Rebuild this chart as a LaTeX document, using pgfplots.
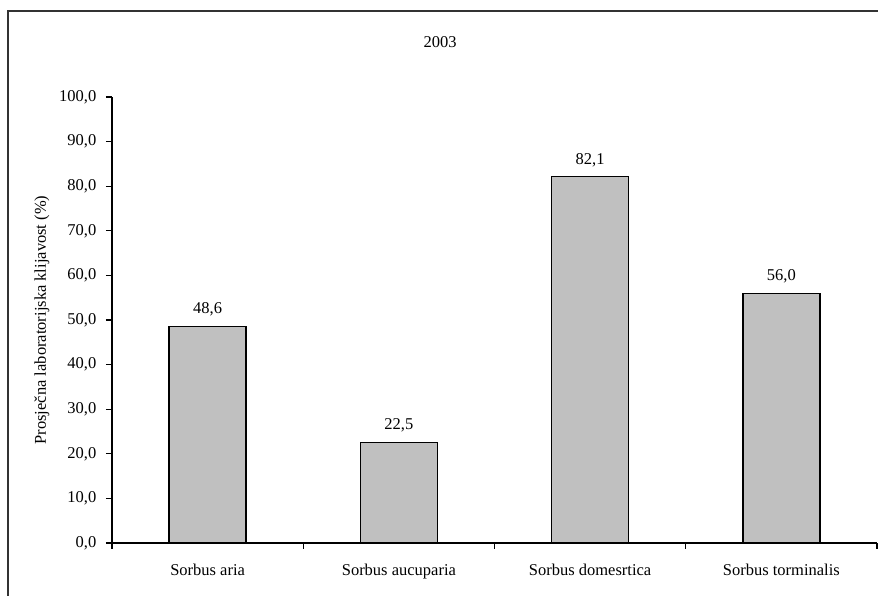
\documentclass[border=0pt]{standalone}
\usepackage{pgfplots}
\pgfplotsset{compat=1.18}
\usepackage{fontspec}
\setmainfont{Liberation Serif}
\begin{document}
\fontsize{16.5}{19}\selectfont
\begin{tikzpicture}
\useasboundingbox (0,0) rectangle (878pt,596pt);
\draw[line width=1.6pt, color=black!80] (8pt,-2pt) -- (8pt,585pt) -- (880pt,585pt);
\node[font=\fontsize{16.5}{19}\selectfont] at (440pt,554pt) {2003};
\begin{axis}[
  at={(112pt,53pt)}, anchor=south west,
  scale only axis, width=765pt, height=446pt,
  xmin=-0.5, xmax=3.5, ymin=0, ymax=100,
  axis x line*=bottom, axis y line*=left,
  axis line style={line width=1.1pt, black},
  every tick/.style={line width=1.1pt, black},
  ytick={0,10,...,100},
  xtick={0,1,2,3},
  xticklabels={Sorbus aria, Sorbus aucuparia, Sorbus domesrtica, Sorbus torminalis},
  major x tick style={draw=none},
  minor xtick={-0.5,0.5,1.5,2.5,3.5},
  tick align=outside, major tick length=6pt, minor tick length=6pt,
  /pgf/number format/assume math mode=true,
  yticklabel style={/pgf/number format/.cd, fixed, fixed zerofill, precision=1, use comma, /tikz/.cd, xshift=-4pt},
  xticklabel style={yshift=-9pt},
  ticklabel style={font=\fontsize{16.5}{19}\selectfont},
  ylabel={Prosječna laboratorijska klijavost (\%)},
  ylabel style={at={(axis description cs:-0.0915,0.5)}, anchor=center, font=\fontsize{16.5}{19}\selectfont},
  ybar, bar width=77pt,
  nodes near coords,
  nodes near coords style={font=\fontsize{16.5}{19}\selectfont, yshift=4pt, /pgf/number format/.cd, fixed, fixed zerofill, precision=1, use comma, assume math mode=true},
  clip=false,
]
\addplot[fill={rgb,255:red,192;green,192;blue,192}, draw=black, line width=1.3pt] coordinates {(0,48.6) (1,22.5) (2,82.1) (3,56.0)};
\end{axis}
\end{tikzpicture}
\end{document}
